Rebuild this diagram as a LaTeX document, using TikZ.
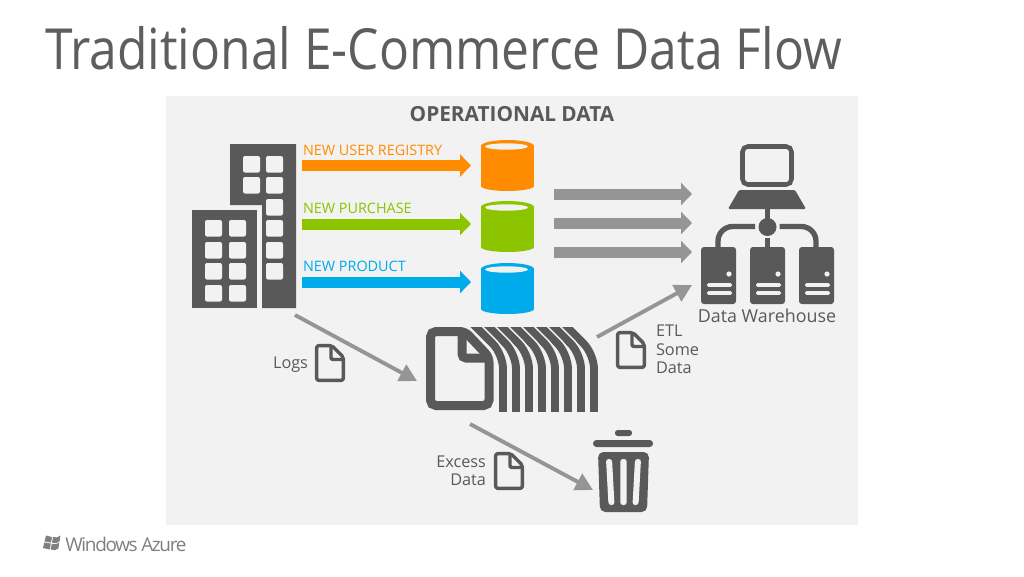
\documentclass[tikz,border=0pt]{standalone}
\usepackage{fontspec}
\setmainfont{Open Sans}
\newfontfamily\tightfont[LetterSpace=-7]{Open Sans}
\newfontfamily\titlefont[FakeStretch=0.878]{Open Sans}
\usetikzlibrary{arrows.meta}
\definecolor{panelgray}{HTML}{F2F2F2}
\definecolor{darkgray}{HTML}{595959}
\definecolor{titlegray}{HTML}{5E5E5E}
\definecolor{arrowgray}{HTML}{959595}
\definecolor{logogray}{HTML}{7F7F7F}
\definecolor{cOrange}{HTML}{FF8C00}
\definecolor{cGreen}{HTML}{8CC400}
\definecolor{cBlue}{HTML}{00ABEC}
\tikzset{
  px/.style={x=.75pt,y=-.75pt},
  txt/.style={inner sep=0pt,outer sep=0pt,text=darkgray,font=\fontsize{12.2}{14}\selectfont},
  lab/.style={inner sep=0pt,outer sep=0pt,font=\fontsize{10.8}{12}\selectfont},
  blockarrow/.style={line width=8.25pt,-{Triangle[length=8.25pt,width=16.5pt]}},
  thinarrow/.style={draw=arrowgray,line width=2.9pt,-{Triangle[length=13pt,width=13.5pt]},arrowgray},
  win/.style={fill=panelgray,rounded corners=1.5pt},
  docline/.style={draw=darkgray,line width=2.6pt,rounded corners=1.5pt,line join=round},
  stackline/.style={draw=darkgray,line width=5.9pt,rounded corners=11pt},
  stackgap/.style={draw=panelgray,line width=8.4pt,rounded corners=11pt},
  armline/.style={draw=darkgray,line width=4pt,rounded corners=11pt},
}
\newcommand{\docicon}[2]{%
  \begin{scope}[shift={(#1,#2)}]
    \draw[docline] (1.7,1.7) -- (17,1.7) -- (28.3,13) -- (28.3,36.3) -- (1.7,36.3) -- cycle;
    \draw[docline] (16,1.7) -- (16,15.5) -- (28.3,15.5);
  \end{scope}}
\newcommand{\cyl}[2]{%
  \fill[#1] (481,#2+6) rectangle (534,#2+46);
  \fill[#1] (507.5,#2+6) ellipse [x radius=26.5,y radius=6];
  \fill[#1] (507.5,#2+46) ellipse [x radius=26.5,y radius=5];
  \fill[panelgray] (506.5,#2+6.5) ellipse [x radius=21.5,y radius=3.2];}
\newcommand{\serverbox}[1]{%
  \fill[darkgray,rounded corners=2.2pt] (#1,247) rectangle (#1+35,304);
  \fill[panelgray] (#1+28,274) circle (2.6);
  \fill[panelgray,rounded corners=1pt] (#1+6,283.2) rectangle (#1+31,286.8);
  \fill[panelgray,rounded corners=1pt] (#1+6,291.2) rectangle (#1+31,294.8);}
\begin{document}
\begin{tikzpicture}[px]
\useasboundingbox (0,0) rectangle (1024,576);
\fill[white] (0,0) rectangle (1024,576);
\fill[panelgray] (166,96) rectangle (858,525);

% title
\node[inner sep=0pt,anchor=base west,text=titlegray,font=\titlefont\fontsize{42.5}{50}\selectfont] (title) at (45,69) {Traditional E-Commerce Data Flow};
\node[inner sep=0pt,text=darkgray,font=\fontsize{15.6}{18}\selectfont\bfseries,anchor=base] (opdata) at (512,121) {OPERATIONAL DATA};

% buildings
\fill[darkgray] (230,144) -- (296,144) -- (296,308) -- (262,308) -- (262,205) -- (230,205) -- cycle;
\fill[darkgray] (192,210) rectangle (257,308);
\foreach \yy in {156,177}{\fill[win] (243,\yy) rectangle +(17,16.5);}
\foreach \yy in {156,177,199,220,242,263}{\fill[win] (266,\yy) rectangle +(17,16.5);}
\foreach \xx in {205,229}\foreach \yy in {220,242,263,285}{\fill[win] (\xx,\yy) rectangle +(17,16.5);}

% colour labels
\node[lab,anchor=base west,text=cOrange] (lbuser) at (303,155) {NEW USER REGISTRY};
\node[lab,anchor=base west,text=cGreen] (lbpur) at (303,213) {NEW PURCHASE};
\node[lab,anchor=base west,text=cBlue] (lbprod) at (303,271) {NEW PRODUCT};

% colour arrows
\coordinate (oa) at (302,165.5); \coordinate (ob) at (471,165.5);
\coordinate (ga) at (302,224);   \coordinate (gb) at (471,224);
\coordinate (ba) at (302,282);   \coordinate (bb) at (471,282);
\draw[blockarrow,cOrange] (oa) -- (ob);
\draw[blockarrow,cGreen] (ga) -- (gb);
\draw[blockarrow,cBlue] (ba) -- (bb);

% cylinders
\cyl{cOrange}{140}
\cyl{cGreen}{201}
\cyl{cBlue}{263}

% gray block arrows
\coordinate (g1a) at (554,194); \coordinate (g1b) at (692,194);
\coordinate (g2a) at (554,223); \coordinate (g2b) at (692,223);
\coordinate (g3a) at (554,252); \coordinate (g3b) at (692,252);
\draw[blockarrow,arrowgray] (g1a) -- (g1b);
\draw[blockarrow,arrowgray] (g2a) -- (g2b);
\draw[blockarrow,arrowgray] (g3a) -- (g3b);

% data warehouse icon
\draw[draw=darkgray,line width=3.4pt,rounded corners=4pt] (742.5,146.5) rectangle (791.5,184.5);
\fill[darkgray,rounded corners=1pt] (739,190) -- (795,190) -- (806,209) -- (728,209) -- cycle;
\fill[darkgray] (765,209) rectangle (770,222);
\fill[darkgray] (767.5,227) circle (9);
\draw[armline] (755,226.5) -- (718,226.5) -- (718,248);
\draw[armline] (779.5,226.5) -- (816,226.5) -- (816,248);
\fill[darkgray] (765,238) rectangle (770,247);
\serverbox{701}
\serverbox{750}
\serverbox{799}
\node[txt,anchor=base,font=\fontsize{13.4}{15}\selectfont] (dw) at (767,322) {Data Warehouse};

% file stack
\begin{scope}
  \clip (470,327) rectangle (600,411);
  \foreach \xx in {594,581,568,555,542,529,516,503}{
    \draw[stackgap] (\xx-34,320) -- (\xx,354) -- (\xx,415);
    \draw[stackline] (\xx-34,320) -- (\xx,354) -- (\xx,415);
  }
\end{scope}
\draw[draw=darkgray,line width=6.75pt,rounded corners=4pt,fill=panelgray] (430.5,331.5) -- (465,331.5) -- (489,357) -- (489,405.5) -- (430.5,405.5) -- cycle;
\draw[draw=darkgray,line width=6.75pt,rounded corners=3pt] (462,331.5) -- (462,358) -- (489,358);

% small document icons
\docicon{616}{331}
\docicon{315}{344}
\docicon{494}{452}

% trash
\fill[darkgray,rounded corners=2pt] (615,430) rectangle (632,436);
\fill[darkgray,rounded corners=2.5pt] (593,440) rectangle (653,447);
\fill[darkgray,rounded corners=4pt] (598,452) -- (649,452) -- (647,512) -- (600,512) -- cycle;
\fill[panelgray,rounded corners=2pt] (606,459) -- (612,459) -- (614.5,505) -- (608.5,505) -- cycle;
\fill[panelgray,rounded corners=2pt] (620.3,459) -- (626.7,459) -- (626.7,505) -- (620.3,505) -- cycle;
\fill[panelgray,rounded corners=2pt] (635,459) -- (641,459) -- (638.5,505) -- (632.5,505) -- cycle;

% thin arrows
\coordinate (la) at (295,315); \coordinate (lb) at (417,381);
\coordinate (ea) at (597,337); \coordinate (eb) at (692,285);
\coordinate (xa) at (470,424); \coordinate (xb) at (593,490);
\draw[thinarrow] (la) -- (lb);
\draw[thinarrow] (ea) -- (eb);
\draw[thinarrow] (xa) -- (xb);

% side labels
\node[txt,anchor=base east] (logs) at (308,368) {Logs};
\node[txt,anchor=base west] (etl1) at (656,336) {ETL};
\node[txt,anchor=base west] (etl2) at (656,355) {Some};
\node[txt,anchor=base west] (etl3) at (656,373) {Data};
\node[txt,anchor=base east] (ex1) at (486,467) {Excess};
\node[txt,anchor=base east] (ex2) at (486,485) {Data};

% logo
\fill[logogray] (46,535.5) -- (52,537) -- (51,542.5) -- (44.5,541.5) -- cycle;
\fill[logogray] (53,537) .. controls (56,538) and (58,537.5) .. (60.5,535.5) -- (59.5,541.5) .. controls (57,543.5) and (55,543.5) .. (52,542.5) -- cycle;
\fill[logogray] (44.3,542.5) -- (50.8,543.5) -- (49.8,549.5) -- (43,548) -- cycle;
\fill[logogray] (51.8,543.7) .. controls (55,544.5) and (57,544.5) .. (59.3,542.5) -- (58.3,548.5) .. controls (56,550.5) and (54,550.5) .. (50.8,549.5) -- cycle;
\node[inner sep=0pt,anchor=base west,text=logogray,font=\tightfont\fontsize{14.2}{16}\selectfont] (logo) at (65,551) {Windows Azure};
\end{tikzpicture}
\end{document}
